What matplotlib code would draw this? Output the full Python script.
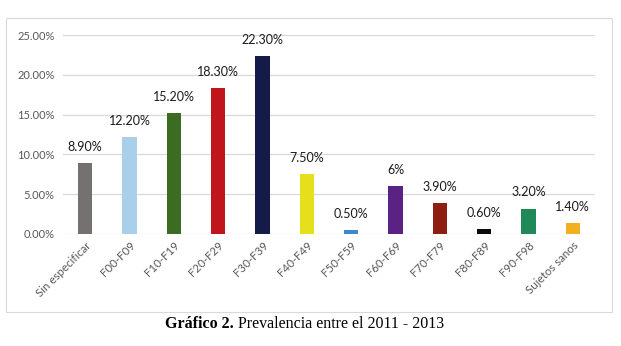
import matplotlib.pyplot as plt
from matplotlib.patches import Rectangle

# Datos
categorias = ['Sin especificar', 'F00-F09', 'F10-F19', 'F20-F29', 'F30-F39', 'F40-F49',
              'F50-F59', 'F60-F69', 'F70-F79', 'F80-F89', 'F90-F98', 'Sujetos sanos']
valores = [8.9, 12.2, 15.2, 18.3, 22.3, 7.5, 0.5, 6.0, 3.9, 0.6, 3.2, 1.4]
etiquetas = ['8.90%', '12.20%', '15.20%', '18.30%', '22.30%', '7.50%',
             '0.50%', '6%', '3.90%', '0.60%', '3.20%', '1.40%']
colores = ['#767171', '#a9cfeb', '#3b6c22', '#c0161b', '#151b49', '#e6df1c',
           '#3f87c6', '#5b2285', '#8e1e12', '#0b0b0b', '#1f8a58', '#f2b020']
yticks = [0, 5, 10, 15, 20, 25]

plt.rcParams['font.family'] = ['Lato', 'DejaVu Sans']

fig = plt.figure(figsize=(6.21, 3.46), dpi=100)
W, H = 621, 346

# marco del area del grafico
fig.patches.append(Rectangle((6 / W, 1 - 312 / H), (612 - 6) / W, (312 - 18) / H,
                             transform=fig.transFigure, fill=False,
                             edgecolor='#d9d9d9', linewidth=0.8))

ax = fig.add_axes([63 / W, 1 - 234 / H, (595 - 63) / W, (234 - 35) / H])
x = range(len(categorias))
ax.bar(x, valores, width=0.32, color=colores, zorder=3)

for i, (v, t) in enumerate(zip(valores, etiquetas)):
    ax.text(i, v + 1.3, t, ha='center', va='bottom', fontsize=9, color='#1a1a1a')

ax.set_xlim(-0.5, len(categorias) - 0.5)
ax.set_ylim(0, 25)
ax.set_yticks(yticks)
ax.set_yticklabels(['%.2f%%' % t for t in yticks], fontsize=8, color='#595959')
ax.set_xticks(list(x))
ax.set_xticklabels(categorias, rotation=45, ha='right', rotation_mode='anchor',
                   fontsize=8.3, color='#595959')
ax.tick_params(length=0, pad=6)
ax.tick_params(axis='x', pad=4)
ax.grid(axis='y', color='#d9d9d9', linewidth=0.9, zorder=0)
for s in ax.spines.values():
    s.set_visible(False)

# titulo al pie
t1 = fig.text(165 / W, 1 - 324 / H, 'Gráfico 2.', fontsize=11.5, fontweight='bold',
              family='Liberation Serif', ha='left', va='center')
fig.canvas.draw()
bb = t1.get_window_extent()
fig.text((bb.x1 + 4) / W, 1 - 324 / H, 'Prevalencia entre el 2011 - 2013', fontsize=11.5,
         family='Liberation Serif', ha='left', va='center')

fig.savefig('out.png', dpi=100)
